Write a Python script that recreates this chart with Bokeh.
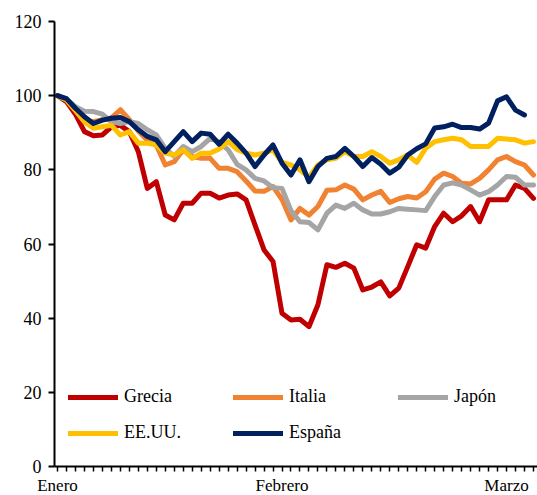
from bokeh.plotting import figure
from bokeh.models import Legend, LegendItem, FixedTicker, Range1d, ColumnDataSource
from bokeh.embed import file_html
from bokeh.resources import INLINE

# --- data (index level, base 100) ---
grecia = [100, 98.4, 95, 90.3, 89.2, 89.4, 91.6, 92, 90.3, 84.9,
          75, 76.8, 67.8, 66.5, 71, 71, 73.7, 73.7, 72.4, 73.2,
          73.5, 71.9, 65.1, 58.4, 55.3, 41.3, 39.5, 39.7, 37.7, 43.6,
          54.4, 53.7, 54.8, 53.5, 47.6, 48.4, 49.8, 46, 48.1, 53.9,
          59.8, 58.9, 64.7, 68.3, 66, 67.6, 70.1, 66, 71.9, 71.9,
          71.9, 75.9, 75, 72.3]
italia = [100, 99, 96, 93, 93, 93.5, 94, 96.2, 93.5, 90.5,
          88, 86.7, 81.3, 82.2, 85.4, 83.6, 83.1, 83.1, 80.4, 80.4,
          79.5, 77, 74.3, 74.2, 75.5, 72, 66.5, 69.6, 67.8, 70.1,
          74.5, 74.6, 75.9, 74.8, 71.9, 73.2, 74.2, 71.2, 72.2, 72.8,
          72.4, 74.1, 77.5, 79.1, 78.2, 76.4, 76.2, 77.7, 80, 82.7,
          83.6, 82.2, 81.3, 78.6]
japon = [100, 99, 97, 95.8, 95.7, 95, 93, 92.5, 93, 92.5,
         90.8, 89.4, 85.8, 83.6, 86.3, 84.9, 86.3, 88.5, 87.5, 85.4,
         81.5, 80, 77.7, 77, 75.2, 75, 69, 66, 65.8, 63.8,
         68.3, 70.5, 69.6, 71, 69.2, 68.1, 68.1, 68.7, 69.6, 69.4,
         69.2, 69, 72.8, 75.9, 76.5, 75.9, 74.6, 73.2, 74.1, 75.9,
         78.2, 78, 75.9, 75.9]
eeuu = [100, 98.8, 96, 93, 91.2, 91.6, 92, 89.4, 90.3, 87.2,
        87.2, 86.7, 84.5, 84, 85.4, 83.1, 84.5, 84.5, 85.6, 87.6,
        85.5, 84.5, 84, 84.5, 85.4, 82, 81.3, 80, 78, 81.3,
        82.7, 83.1, 84.9, 83.6, 83.6, 84.9, 83.6, 81.8, 82.7, 84,
        82, 85.8, 87.6, 88.1, 88.5, 88.1, 86.3, 86.3, 86.3, 88.5,
        88.3, 88.1, 87.2, 87.6]
espana = [100, 99.2, 96.6, 94.3, 92.5, 93.4, 93.9, 94.1, 93, 90.8,
          89, 88.1, 84.9, 87.6, 90.3, 87.6, 89.9, 89.6, 86.9, 89.6,
          87.2, 84.5, 80.9, 84, 86.7, 81.8, 78.6, 82.7, 76.8, 80.9,
          83.1, 83.6, 85.8, 83.6, 80.9, 83.3, 81.5, 79.1, 80.7, 84,
          85.7, 87, 91.3, 91.6, 92.3, 91.4, 91.4, 91, 92.6, 98.6,
          99.7, 96.1, 94.8]

series_names = ["Grecia", "Italia", "Japón", "EE.UU.", "España"]
series_values = [grecia, italia, japon, eeuu, espana]
series_colors = ["#C00000", "#F08232", "#A5A5A5", "#FFC000", "#002060"]

month_labels = ["Enero", "Febrero", "Marzo"]
month_index = [0, 25, 50]
y_ticks = [0, 20, 40, 60, 80, 100, 120]

n_days = len(grecia)
FONT = "Liberation Serif"

p = figure(frame_width=483, frame_height=445, output_backend="svg",
           toolbar_location=None,
           x_range=Range1d(-0.334, 53.45), y_range=Range1d(0, 120),
           min_border_left=54, min_border_right=0, min_border_top=21,
           min_border_bottom=0)
p.outline_line_color = None
p.xgrid.visible = False
p.ygrid.visible = False
p.background_fill_color = "white"
p.border_fill_color = "white"

renderers = []
for name, vals, col in zip(series_names, series_values, series_colors):
    src = ColumnDataSource(dict(x=list(range(len(vals))), y=vals))
    r = p.line("x", "y", source=src, line_color=col, line_width=5,
               line_join="round", line_cap="round")
    renderers.append(r)

# y axis
ya = p.yaxis[0]
ya.ticker = FixedTicker(ticks=y_ticks, minor_ticks=[])
ya.major_tick_out = 6
ya.major_tick_in = 0
ya.major_tick_line_width = 2
ya.axis_line_width = 2
ya.axis_line_color = "black"
ya.major_tick_line_color = "black"
ya.major_label_text_font = FONT
ya.major_label_text_font_size = "18px"
ya.major_label_text_color = "black"
ya.major_label_standoff = 7

# x axis
xa = p.xaxis[0]
xa.ticker = FixedTicker(ticks=list(range(n_days)), minor_ticks=[])
overrides = {i: "" for i in range(n_days)}
for lab, idx in zip(month_labels, month_index):
    overrides[idx] = lab
xa.major_label_overrides = overrides
xa.major_tick_out = 5
xa.major_tick_in = 0
xa.major_tick_line_width = 1.5
xa.axis_line_width = 2
xa.axis_line_color = "black"
xa.major_tick_line_color = "black"
xa.major_label_text_font = FONT
xa.major_label_text_font_size = "17px"
xa.major_label_text_color = "black"
xa.major_label_standoff = 4

# legends (one per entry, placed in a 3-column grid)
leg_pos = [(14, 59), (179, 59), (344, 59), (14, 23), (179, 23)]
for name, r, pos in zip(series_names, renderers, leg_pos):
    leg = Legend(items=[LegendItem(label=name, renderers=[r])], location=pos,
                 glyph_width=50, glyph_height=20, label_height=20,
                 label_standoff=6, padding=0, margin=0, spacing=0,
                 border_line_color=None, background_fill_alpha=0,
                 label_text_font=FONT, label_text_font_size="18px",
                 label_text_color="black")
    p.add_layout(leg)

open("out.html", "w").write(file_html(p, INLINE))
